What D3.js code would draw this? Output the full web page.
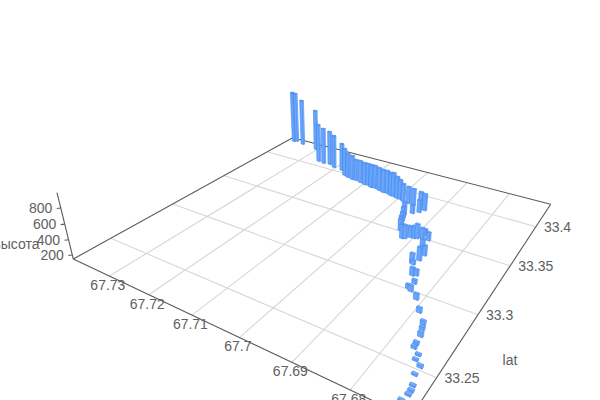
<!DOCTYPE html><html><head><meta charset="utf-8"><script src="https://cdn.jsdelivr.net/npm/d3@7"></script></head><body style="margin:0;background:#fff;overflow:hidden"><svg width="600" height="400" style="display:block"></svg><script>
const lons=[67.7383,67.7377,67.7352,67.7304,67.7257,67.7240,67.7224,67.7206,67.7181,67.7161,67.7149,67.7135,67.7125,67.7111,67.7098,67.7089,67.7078,67.7068,67.7055,67.7043,67.7033,67.7022,67.7015,67.7004,67.6996,67.6986,67.6972,67.6959,67.6940,67.6929,67.6935,67.6945,67.6956,67.6952,67.6948,67.6943,67.6935,67.6919,67.6914,67.6907,67.6899,67.6894,67.6885,67.6885,67.6872,67.6868,67.6857,67.6856,67.6864,67.6861,67.6841,67.6847,67.6833,67.6836,67.6829,67.6811,67.6792,67.6774,67.6770,67.6765,67.6763,67.6762,67.6750,67.6749,67.6737,67.6737,67.6730,67.6728,67.6728,67.6732];
const lats=[33.4289,33.4303,33.4279,33.4252,33.4078,33.4068,33.4078,33.4050,33.4038,33.3979,33.3963,33.3951,33.3953,33.3941,33.3929,33.3931,33.3916,33.3918,33.3906,33.3895,33.3897,33.3882,33.3881,33.3870,33.3868,33.3854,33.3847,33.3840,33.3828,33.3818,33.3777,33.3741,33.3690,33.3652,33.3615,33.3568,33.3512,33.3436,33.3446,33.3472,33.3475,33.3484,33.3500,33.3541,33.3499,33.3391,33.3279,33.3340,33.3231,33.3225,33.3139,33.3127,33.3067,33.3011,33.2996,33.2949,33.2863,33.2791,33.2755,33.2705,33.2645,33.2616,33.2584,33.2548,33.2520,33.2465,33.2402,33.2372,33.2346,33.2306];
const heights=[962,945,874,784,731,697,665,645,564,559,511,509,463,476,475,474,487,486,485,483,482,481,494,464,434,403,388,387,385,384,325,268,338,309,279,278,304,342,329,302,315,343,288,234,260,285,321,283,281,202,226,252,199,199,224,223,209,195,183,206,182,181,169,169,180,168,168,167,167,160];
const lonTicks=[67.73,67.72,67.71,67.7,67.69,67.68];
const latTicks=[33.25,33.3,33.35,33.4];
const heightTicks=[200,400,600,800];

const sScale=d3.scaleLinear().domain([67.74,67.6708]).range([0,1]);
const tScale=d3.scaleLinear().domain([33.224,33.434]).range([0,1]);
const zScale=d3.scaleLinear().domain([147,987]).range([0,1]);
// perspective camera matrix
function project(s,t,z){const w=1-.2892*s+.4627*t-.0574*z;
  return [(218.1*s+354.8*t-19.57*z+73.3)/w,(38.3*s-57.6*t-77.5*z+259)/w];}
const svg=d3.select("svg");
const axisC="#5a5a5a",gridC="#d6d6d6",textC="#606060";
const font="'Liberation Sans',Arial,sans-serif";
function seg(p,q,col,cls){svg.append("line").attr("class",cls).attr("x1",p[0]).attr("y1",p[1]).attr("x2",q[0]).attr("y2",q[1]).attr("stroke",col).attr("stroke-width",1.1);}
lonTicks.forEach(v=>{const s=sScale(v);seg(project(s,0,0),project(s,1,0),gridC,"grid");});
latTicks.forEach(v=>{const t=tScale(v);seg(project(0,t,0),project(1,t,0),gridC,"grid");});
seg(project(0,0,0),project(0,1,0),axisC,"axis");
seg(project(0,1,0),project(1,1,0),axisC,"axis");
seg(project(0,0,0),project(1,0,0),axisC,"axis");
seg(project(1,1,0),project(1,0,0),axisC,"axis");
seg(project(0,0,0),project(0,0,1),axisC,"axis");
function label(x,y,txt,anchor){svg.append("text").attr("x",x).attr("y",y).attr("dy","0.35em").attr("text-anchor",anchor).attr("font-family",font).attr("font-size",14).attr("fill",textC).text(txt);}
lonTicks.forEach(v=>{const p=project(sScale(v),0,0);label(p[0]-1.5,p[1]+9,d3.format("")(v),"middle");});
latTicks.forEach(v=>{const p=project(1,tScale(v),0);label(p[0]+8,p[1],d3.format("")(v),"start");});
heightTicks.forEach(v=>{const p=project(0,0,zScale(v));seg([p[0]-4,p[1]+.5],p,axisC,"tick");label(p[0]-8.5,p[1],v,"end");});
label(510,360,"lat","middle");
label(39.5,244,"высота","end");

const ds=.0062,dt=.0032;
const bars=lons.map((lon,i)=>({s:sScale(lon),t:tScale(lats[i]),z:zScale(heights[i])})).sort((a,b)=>(a.s-a.t)-(b.s-b.t));
const poly=pts=>"M"+pts.map(p=>p[0].toFixed(2)+","+p[1].toFixed(2)).join("L")+"Z";
const g=svg.selectAll("g.bar").data(bars).join("g").attr("class","bar").attr("stroke","#4384ee").attr("stroke-width",.6).attr("stroke-linejoin","round");
g.append("path").attr("fill","#68a7fb").attr("d",b=>poly([project(b.s-ds,b.t-dt,0),project(b.s+ds,b.t-dt,0),project(b.s+ds,b.t-dt,b.z),project(b.s-ds,b.t-dt,b.z)]));
g.append("path").attr("fill","#a2caFD").attr("d",b=>poly([project(b.s+ds,b.t-dt,0),project(b.s+ds,b.t+dt,0),project(b.s+ds,b.t+dt,b.z),project(b.s+ds,b.t-dt,b.z)]));
g.append("path").attr("fill","#7ab2fb").attr("d",b=>poly([project(b.s-ds,b.t-dt,b.z),project(b.s+ds,b.t-dt,b.z),project(b.s+ds,b.t+dt,b.z),project(b.s-ds,b.t+dt,b.z)]));
</script></body></html>
